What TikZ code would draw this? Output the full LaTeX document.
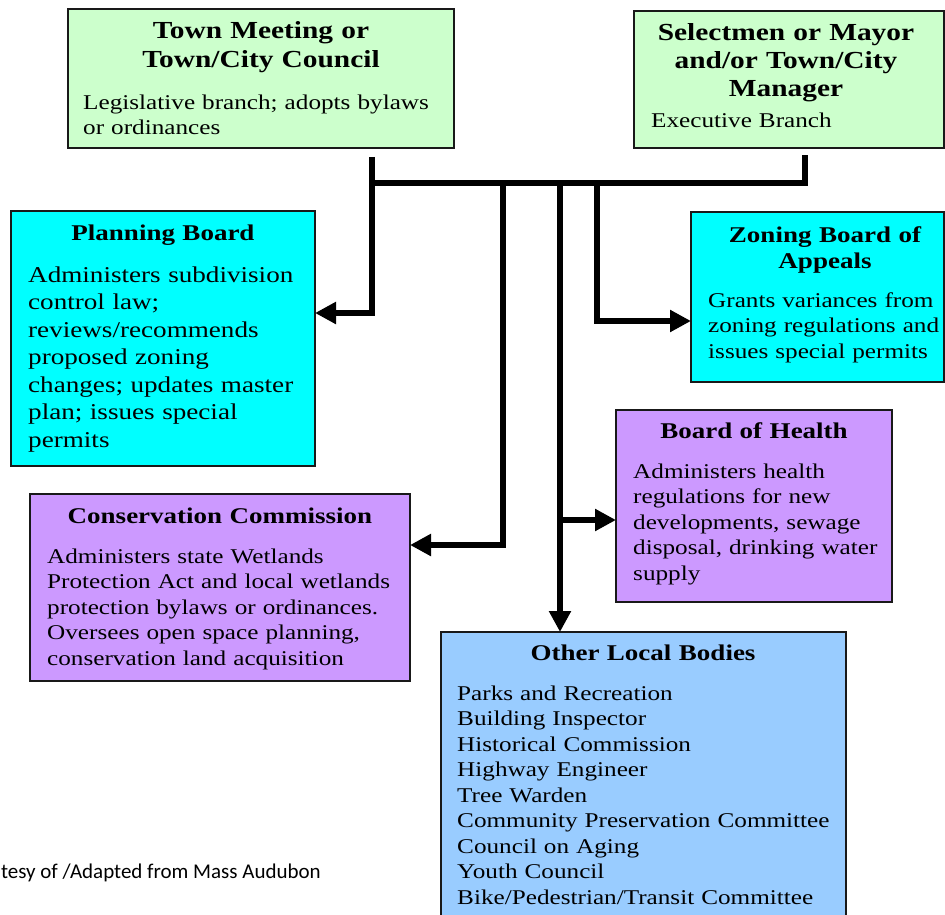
\documentclass[tikz,border=0pt]{standalone}
\usepackage{fontspec}
\setmainfont{Liberation Serif}[FakeStretch=1.2]
\newfontfamily\creditfont{Carlito}
\usepackage{xcolor}
\usetikzlibrary{arrows.meta}

\definecolor{branchgreen}{HTML}{CCFFCC}
\definecolor{boardcyan}{HTML}{00FFFF}
\definecolor{boardviolet}{HTML}{CC99FF}
\definecolor{otherblue}{HTML}{99CCFF}

\tikzset{
  box/.style={draw=black!90, line width=2pt, anchor=north west, inner sep=0pt, outer sep=0pt},
  heading/.style={anchor=base, align=center, text width=330pt, inner sep=0pt,
    font=\fontsize{22.5}{26}\selectfont\bfseries},
  bigheading/.style={heading, font=\fontsize{24.5}{28.5}\selectfont\bfseries},
  body/.style={anchor=base west, align=left, text width=390pt, inner sep=0pt,
    font=\fontsize{21}{25.5}\selectfont},
  bus/.style={line width=6pt},
  link/.style={line width=6pt, -{Triangle[length=21pt,width=21pt]}},
}

\begin{document}
\begin{tikzpicture}[x=1pt,y=1pt]
\clip (0,0) rectangle (945,-915);

\node at (68,-9) [box, fill=branchgreen, minimum width=386pt, minimum height=139pt] (town) {};
\node at (261,-39) [bigheading] (towntitle) {Town Meeting or\\Town/City Council};
\node at (83,-110) [body, font=\fontsize{21}{25}\selectfont] (towntext) {Legislative branch; adopts bylaws\\or ordinances};

\node at (634,-11) [box, fill=branchgreen, minimum width=310pt, minimum height=137pt] (select) {};
\node at (786,-41) [bigheading, font=\fontsize{24.5}{28}\selectfont\bfseries] (selecttitle) {Selectmen or Mayor\\and/or Town/City\\Manager};
\node at (651,-128) [body] (selecttext) {Executive Branch};

\node at (11,-211) [box, fill=boardcyan, minimum width=304pt, minimum height=255pt] (planning) {};
\node at (163,-240) [heading] (planningtitle) {Planning Board};
\node at (28,-282) [body, font=\fontsize{22.6}{27.5}\selectfont] (planningtext) {Administers subdivision\\control law;\\reviews/recommends\\proposed zoning\\changes; updates master\\plan; issues special\\permits};

\node at (691,-212) [box, fill=boardcyan, minimum width=253pt, minimum height=170pt] (zoning) {};
\node at (825,-242) [heading] (zoningtitle) {Zoning Board of\\Appeals};
\node at (708,-307) [body] (zoningtext) {Grants variances from\\zoning regulations and\\issues special permits};

\node at (616,-410) [box, fill=boardviolet, minimum width=276pt, minimum height=192pt] (health) {};
\node at (754,-438) [heading] (healthtitle) {Board of Health};
\node at (633,-478) [body] (healthtext) {Administers health\\regulations for new\\developments, sewage\\disposal, drinking water\\supply};

\node at (30,-494) [box, fill=boardviolet, minimum width=380pt, minimum height=187pt] (conservation) {};
\node at (220,-523) [heading] (conservationtitle) {Conservation Commission};
\node at (47,-563) [body] (conservationtext) {Administers state Wetlands\\Protection Act and local wetlands\\protection bylaws or ordinances.\\Oversees open space planning,\\conservation land acquisition};

\node at (441,-632) [box, fill=otherblue, minimum width=405pt, minimum height=295pt] (other) {};
\node at (643,-660) [heading] (othertitle) {Other Local Bodies};
\node at (457,-700) [body] (othertext) {Parks and Recreation\\Building Inspector\\Historical Commission\\Highway Engineer\\Tree Warden\\Community Preservation Committee\\Council on Aging\\Youth Council\\Bike/Pedestrian/Transit Committee};

\node at (321,-878) [anchor=base east, inner sep=0pt, font=\creditfont\fontsize{21}{25}\selectfont] (credit) {tesy of /Adapted from Mass Audubon};

\coordinate (towndrop) at (372,-157);
\coordinate (selectdrop) at (805,-155);
\coordinate (busleft) at (372,-183);
\coordinate (busright) at (805,-183);
\coordinate (planningelbow) at (372,-313);
\coordinate (conservationdrop) at (503,-183);
\coordinate (conservationelbow) at (503,-545);
\coordinate (otherdrop) at (560,-183);
\coordinate (healthjoin) at (560,-520);
\coordinate (zoningdrop) at (597,-183);
\coordinate (zoningelbow) at (597,-321);

\draw [bus] (busleft) -- (busright) -- (selectdrop);
\draw [link] (towndrop) -- (planningelbow) -- (planningelbow -| planning.east);
\draw [link] (conservationdrop) -- (conservationelbow) -- (conservationelbow -| conservation.east);
\draw [link] (otherdrop) -- (otherdrop |- other.north);
\draw [link] (healthjoin) -- (healthjoin -| health.west);
\draw [link] (zoningdrop) -- (zoningelbow) -- (zoningelbow -| zoning.west);

\end{tikzpicture}
\end{document}
